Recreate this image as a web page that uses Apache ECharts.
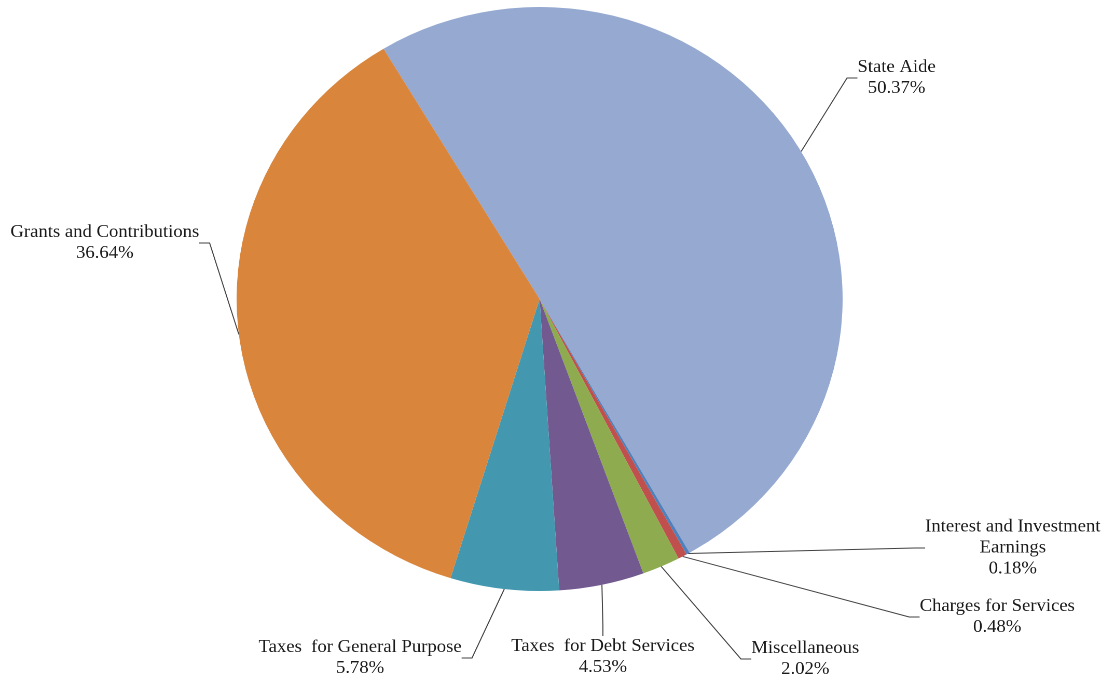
<!DOCTYPE html>
<html>
<head>
<meta charset="utf-8">
<script src="https://cdn.jsdelivr.net/npm/echarts@6/dist/echarts.min.js"></script>
<style>
  html, body { margin: 0; padding: 0; background: #ffffff; overflow: hidden; }
  /* the original picture is a little wider than tall, so the pie is stretched sideways */
  #chart { width: 1066px; height: 679px; transform: scaleX(1.0377); transform-origin: 0 0; }
</style>
</head>
<body>
<div id="chart"></div>
<script>
// revenue shares, clockwise from the top-left edge
const names = ['State Aide', 'Interest and Investment\nEarnings', 'Charges for Services',
  'Miscellaneous', 'Taxes  for Debt Services', 'Taxes  for General Purpose', 'Grants and Contributions']
const shares = [50.37, 0.18, 0.48, 2.02, 4.53, 5.78, 36.64]
const colors = ['#95A9D1', '#4F81BD', '#C0504D', '#8EAC4F', '#72598F', '#4398B0', '#D9853B']

// where each label sits (centre of text block, in unstretched px)
const labelSpots = [
  [864, 78], [976, 548], [961, 617], [776, 659], [581, 657], [347, 658], [101, 243]
]

const chart = echarts.init(document.getElementById('chart'), null, { renderer: 'canvas', devicePixelRatio: 2 })
chart.setOption({
  animation: false,
  color: colors,
  series: [{
    type: 'pie',
    center: [520, 299],
    radius: 292,
    startAngle: 121,
    clockwise: true,
    data: names.map((n, i) => ({ name: n, value: shares[i] })),
    label: {
      show: true,
      position: 'outside',
      formatter: p => p.name + '\n' + p.value.toFixed(2) + '%',
      fontFamily: 'Liberation Serif',
      fontSize: 18,
      lineHeight: 21,
      color: '#1a1a1a',
      align: 'center'
    },
    labelLine: {
      show: true,
      length: 10,
      length2: 10,
      lineStyle: { color: '#404040', width: 1 }
    },
    labelLayout: function (params) {
      const s = labelSpots[params.dataIndex]
      return { x: s[0], y: s[1], align: 'center', verticalAlign: 'middle' }
    },
    itemStyle: { borderWidth: 0 },
    emphasis: { disabled: true }
  }]
})
</script>
</body>
</html>
